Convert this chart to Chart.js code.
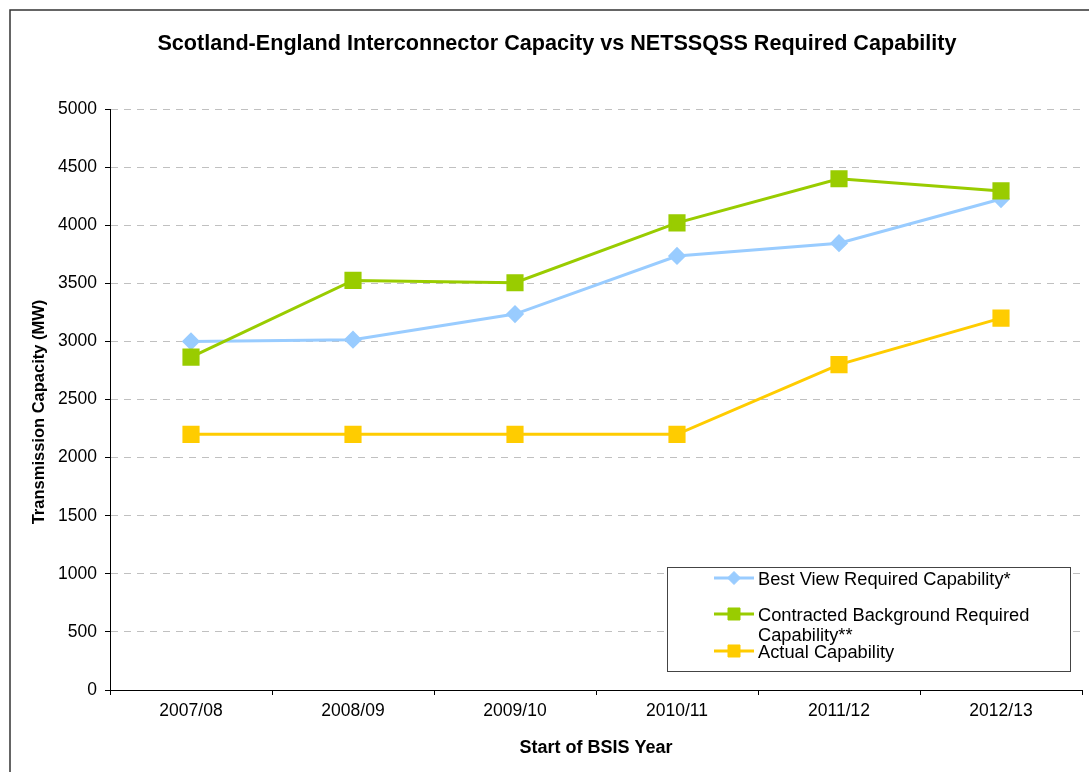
<!DOCTYPE html>
<html>
<head>
<meta charset="utf-8">
<title>Scotland-England Interconnector Capacity</title>
<script src="https://cdn.jsdelivr.net/npm/chart.js@4/dist/chart.umd.min.js"></script>
<style>
  html, body { margin: 0; padding: 0; background: #fff; }
  #chart { display: block; }
</style>
</head>
<body>
<canvas id="chart" width="1089" height="772"></canvas>
<script>
'use strict'

// data
const years = ['2007/08', '2008/09', '2009/10', '2010/11', '2011/12', '2012/13']
const bestView = [3000, 3015, 3235, 3735, 3845, 4225]
const contracted = [2865, 3525, 3505, 4020, 4400, 4295]
const actual = [2200, 2200, 2200, 2200, 2800, 3200]
const seriesNames = [
  'Best View Required Capability*',
  'Contracted Background Required Capability**',
  'Actual Capability'
]
const yTicks = [0, 500, 1000, 1500, 2000, 2500, 3000, 3500, 4000, 4500, 5000]
const chartTitle = 'Scotland-England Interconnector Capacity vs NETSSQSS Required Capability'
const yTitle = 'Transmission Capacity (MW)'
const xTitle = 'Start of BSIS Year'

const FONT = '"Liberation Sans", Arial, Helvetica, sans-serif'

// outer frame, main title and the y title (placed like the spreadsheet chart)
const framePlugin = {
  id: 'frame',
  beforeDraw(chart) {
    const ctx = chart.ctx
    ctx.save()
    ctx.strokeStyle = '#333'
    ctx.lineWidth = 1.5
    ctx.strokeRect(10, 10, 1200, 1200)
    ctx.fillStyle = '#000'
    ctx.textAlign = 'center'
    ctx.textBaseline = 'middle'
    ctx.font = 'bold 21.6px ' + FONT
    ctx.fillText(chartTitle, 557, 44)
    ctx.translate(39, 412)
    ctx.rotate(-Math.PI / 2)
    ctx.font = 'bold 16.5px ' + FONT
    ctx.fillText(yTitle, 0, 0)
    ctx.restore()
  }
}

// boxed legend in the lower right, labels wrap like the spreadsheet one
const boxLegend = {
  id: 'boxLegend',
  afterDraw(chart) {
    const ctx = chart.ctx
    const box = { x: 667, y: 567, w: 403, h: 104 }
    const rows = [578, 614, 651]
    ctx.save()
    ctx.fillStyle = '#fff'
    ctx.fillRect(box.x, box.y, box.w, box.h)
    ctx.strokeStyle = '#444'
    ctx.lineWidth = 1
    ctx.strokeRect(box.x + 0.5, box.y + 0.5, box.w, box.h)

    ctx.font = '18.3px ' + FONT
    ctx.textBaseline = 'middle'
    ctx.textAlign = 'left'
    chart.data.datasets.forEach((ds, i) => {
      const y = rows[i]
      ctx.strokeStyle = ds.borderColor
      ctx.lineWidth = 3
      ctx.beginPath()
      ctx.moveTo(714, y)
      ctx.lineTo(754, y)
      ctx.stroke()
      ctx.fillStyle = ds.pointBackgroundColor
      ctx.strokeStyle = ds.pointBackgroundColor
      ctx.lineWidth = 1
      Chart.helpers.drawPoint(ctx, {
        pointStyle: ds.pointStyle,
        radius: ds.pointStyle === 'rectRot' ? 6.5 : 8.5,
        rotation: 0,
        borderWidth: 1
      }, 734, y)

      // wrap label text
      const words = ds.label.split(' ')
      const lines = []
      let cur = ''
      words.forEach(w => {
        const test = cur ? cur + ' ' + w : w
        if (ctx.measureText(test).width > 285 && cur) {
          lines.push(cur)
          cur = w
        } else {
          cur = test
        }
      })
      lines.push(cur)
      ctx.fillStyle = '#000'
      lines.forEach((line, k) => ctx.fillText(line, 758, y + 2 + k * 20))
    })
    ctx.restore()
  }
}

const chart = new Chart(document.getElementById('chart'), {
  type: 'line',
  data: {
    labels: years,
    datasets: [
      {
        label: seriesNames[0],
        data: bestView,
        borderColor: '#99ccff',
        backgroundColor: '#99ccff',
        pointBackgroundColor: '#99ccff',
        pointBorderColor: '#99ccff',
        pointStyle: 'rectRot',
        pointRadius: 7,
        borderWidth: 3,
        order: 3
      },
      {
        label: seriesNames[1],
        data: contracted,
        borderColor: '#99cc00',
        backgroundColor: '#99cc00',
        pointBackgroundColor: '#99cc00',
        pointBorderColor: '#99cc00',
        pointStyle: 'rect',
        pointRadius: 10,
        borderWidth: 3,
        order: 2
      },
      {
        label: seriesNames[2],
        data: actual,
        borderColor: '#ffcc00',
        backgroundColor: '#ffcc00',
        pointBackgroundColor: '#ffcc00',
        pointBorderColor: '#ffcc00',
        pointStyle: 'rect',
        pointRadius: 10,
        borderWidth: 3,
        order: 1
      }
    ]
  },
  options: {
    responsive: false,
    animation: false,
    devicePixelRatio: 1,
    layout: { autoPadding: false, padding: { top: 109, right: 7, bottom: 0, left: 0 } },
    elements: { line: { tension: 0 }, point: { borderWidth: 1 } },
    plugins: {
      legend: { display: false },
      tooltip: { enabled: false },
      title: { display: false }
    },
    scales: {
      x: {
        type: 'category',
        offset: true,
        grid: {
          display: true,
          offset: true,
          drawOnChartArea: false,
          drawTicks: true,
          tickLength: 5,
          tickColor: '#000'
        },
        border: { display: true, color: '#000', width: 1 },
        ticks: {
          color: '#000',
          padding: 6,
          maxRotation: 0,
          font: { family: FONT, size: 17.5 }
        },
        title: {
          display: true,
          text: xTitle,
          color: '#000',
          font: { family: FONT, size: 18, weight: 'bold' },
          padding: { top: 4, bottom: 13 }
        },
        afterFit(scale) {
          scale.height = 82
          scale.paddingLeft = 0
          scale.paddingRight = 0
        }
      },
      y: {
        min: 0,
        max: 5000,
        afterBuildTicks(scale) { scale.ticks = yTicks.map(v => ({ value: v })) },
        grid: {
          color: ctx => (ctx.tick && ctx.tick.value === 0 ? 'rgba(0,0,0,0)' : '#c0c0c0'),
          drawTicks: true,
          tickLength: 5,
          tickColor: '#000'
        },
        border: { display: true, color: '#000', width: 1, dash: [7, 6] },
        ticks: {
          color: '#000',
          padding: 8,
          font: { family: FONT, size: 17.5 },
          callback: v => String(v)
        },
        afterFit(scale) { scale.width = 110 }
      }
    }
  },
  plugins: [framePlugin, boxLegend]
})
</script>
</body>
</html>
